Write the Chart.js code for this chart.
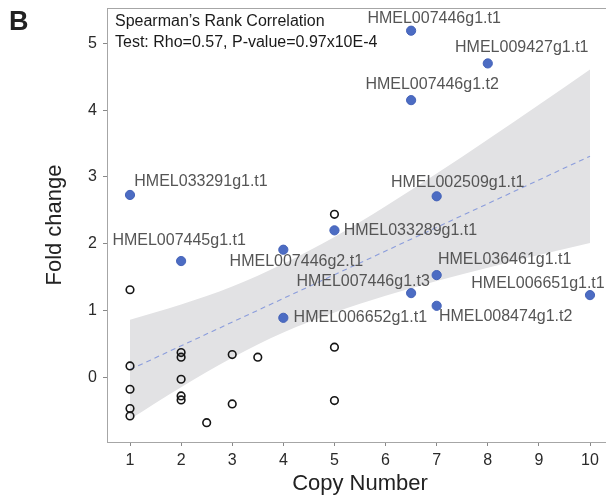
<!DOCTYPE html>
<html>
<head>
<meta charset="utf-8">
<script src="https://cdn.jsdelivr.net/npm/chart.js@4.4.1/dist/chart.umd.min.js"></script>
<style>
  html, body { margin: 0; padding: 0; background: #fff; overflow: hidden; }
  #wrap { position: relative; width: 620px; height: 497px; }
</style>
</head>
<body>
<div id="wrap"><canvas id="copyChart"></canvas></div>
<script>
/* ── DATA ─────────────────────────────────────────────────── */
const geneNames = [
  'HMEL007446g1.t1', 'HMEL009427g1.t1', 'HMEL007446g1.t2', 'HMEL033291g1.t1',
  'HMEL007445g1.t1', 'HMEL007446g2.t1', 'HMEL033289g1.t1', 'HMEL006652g1.t1',
  'HMEL002509g1.t1', 'HMEL036461g1.t1', 'HMEL007446g1.t3', 'HMEL008474g1.t2',
  'HMEL006651g1.t1'
];
const geneCopy = [6.5, 8, 6.5, 1, 2, 4, 5, 4, 7, 7, 6.5, 7, 10];
const geneFold = [5.19, 4.70, 4.15, 2.73, 1.74, 1.91, 2.20, 0.89, 2.71, 1.53, 1.26, 1.07, 1.23];

const otherCopy = [1, 1, 1, 1, 1, 2, 2, 2, 2, 2, 2.5, 3, 3, 3.5, 5, 5, 5];
const otherFold = [1.31, 0.17, -0.18, -0.47, -0.58, 0.37, 0.30, -0.03, -0.28, -0.34, -0.68, 0.34, -0.40, 0.30, 2.44, 0.45, -0.35];

const fitCopy = [1, 10];
const fitFold = [0.115, 3.31];

const bandCopy  = [1, 2, 3, 4, 5, 6, 7, 8, 9, 10];
const bandUpper = [0.86, 1.09, 1.36, 1.70, 2.10, 2.56, 3.05, 3.56, 4.08, 4.61];
const bandLower = [-0.63, -0.15, 0.29, 0.67, 0.97, 1.22, 1.44, 1.64, 1.83, 2.01];

const xTicks = [1, 2, 3, 4, 5, 6, 7, 8, 9, 10];
const yTicks = [0, 1, 2, 3, 4, 5];

const statLines = ['Spearman\u2019s Rank Correlation', 'Test: Rho=0.57, P-value=0.97x10E-4'];

/* ── LAYOUT (label offsets from each point, px) ────────────── */
const labelOffsets = [
  [23, -12], [34, -16], [21, -16], [71, -13],
  [-2, -20], [13, 12], [76, 0], [77, 0],
  [21, -14], [68, -15], [-48, -12], [69, 11],
  [-52, -12]
];

const FONT = "'Liberation Sans', Arial, sans-serif";
const pts = (xs, ys) => xs.map((x, i) => ({ x, y: ys[i] }));

/* ── PLUGINS ───────────────────────────────────────────────── */
const framePlugin = {
  id: 'frame',
  afterDatasetsDraw(chart) {
    const { ctx, chartArea: a } = chart;
    ctx.save();
    ctx.strokeStyle = '#a6a6a6';
    ctx.lineWidth = 1;
    ctx.strokeRect(a.left + 0.5, a.top + 0.5, a.right - a.left, a.bottom - a.top);
    ctx.restore();
  }
};

const textPlugin = {
  id: 'texts',
  afterDraw(chart) {
    const { ctx } = chart;
    const meta = chart.getDatasetMeta(0);
    ctx.save();
    ctx.textBaseline = 'middle';

    // gene labels
    ctx.font = '16px ' + FONT;
    ctx.fillStyle = '#555';
    ctx.textAlign = 'center';
    meta.data.forEach((p, i) => {
      const off = labelOffsets[i];
      ctx.fillText(geneNames[i], p.x + off[0], p.y + off[1]);
    });

    // stats text
    ctx.fillStyle = '#1a1a1a';
    ctx.textAlign = 'left';
    ctx.fillText(statLines[0], 115, 22);
    ctx.fillText(statLines[1], 115, 43);

    // panel letter
    ctx.font = 'bold 27px ' + FONT;
    ctx.fillStyle = '#222';
    ctx.fillText('B', 9, 23);
    ctx.restore();
  }
};

/* ── CHART ─────────────────────────────────────────────────── */
new Chart(document.getElementById('copyChart'), {
  type: 'scatter',
  data: {
    datasets: [
      {
        label: 'genes',
        data: pts(geneCopy, geneFold),
        pointRadius: 4.6,
        pointHoverRadius: 4.6,
        backgroundColor: '#4c6cc3',
        borderColor: '#4462b8',
        borderWidth: 1,
        showLine: false
      },
      {
        label: 'other',
        data: pts(otherCopy, otherFold),
        pointRadius: 3.8,
        pointHoverRadius: 3.8,
        backgroundColor: 'rgba(0,0,0,0)',
        borderColor: '#151515',
        borderWidth: 1.6,
        showLine: false
      },
      {
        label: 'fit',
        data: pts(fitCopy, fitFold),
        showLine: true,
        pointRadius: 0,
        borderColor: '#8b9ddc',
        borderWidth: 1.1,
        borderDash: [5, 4],
        fill: false
      },
      {
        label: 'upper',
        data: pts(bandCopy, bandUpper),
        showLine: true,
        pointRadius: 0,
        borderWidth: 0,
        borderColor: 'rgba(0,0,0,0)',
        backgroundColor: '#e2e2e4',
        cubicInterpolationMode: 'monotone',
        fill: '+1'
      },
      {
        label: 'lower',
        data: pts(bandCopy, bandLower),
        showLine: true,
        pointRadius: 0,
        borderWidth: 0,
        borderColor: 'rgba(0,0,0,0)',
        cubicInterpolationMode: 'monotone',
        fill: false
      }
    ]
  },
  options: {
    responsive: true,
    maintainAspectRatio: false,
    animation: false,
    events: [],
    layout: { padding: { left: 0, top: 8, right: 7, bottom: 0 } },
    plugins: {
      legend: { display: false },
      tooltip: { enabled: false }
    },
    scales: {
      x: {
        type: 'linear',
        min: 0.55, max: 10.45,
        afterFit(scale) {
          scale.height = 55;
          scale.paddingLeft = 0;
          scale.paddingRight = 0;
        },
        afterBuildTicks(scale) { scale.ticks = xTicks.map(v => ({ value: v })); },
        border: { display: true, color: '#a6a6a6' },
        grid: { drawOnChartArea: false, drawTicks: true, tickLength: 4, color: '#888' },
        ticks: { color: '#2a2a2a', font: { family: FONT, size: 16 }, padding: 5, maxRotation: 0 },
        title: {
          display: true, text: 'Copy Number', color: '#222',
          font: { family: FONT, size: 22 }, padding: { top: 0, bottom: 0 }
        }
      },
      y: {
        type: 'linear',
        min: -0.97, max: 5.53,
        afterFit(scale) {
          scale.width = 107;
          scale.paddingTop = 0;
          scale.paddingBottom = 0;
        },
        afterBuildTicks(scale) { scale.ticks = yTicks.map(v => ({ value: v })); },
        border: { display: true, color: '#a6a6a6' },
        grid: { drawOnChartArea: false, drawTicks: true, tickLength: 4, color: '#888' },
        ticks: { color: '#2a2a2a', font: { family: FONT, size: 16 }, padding: 6 },
        title: {
          display: true, text: 'Fold change', color: '#222',
          font: { family: FONT, size: 22 }, padding: { top: 42, bottom: 0 }
        }
      }
    }
  },
  plugins: [framePlugin, textPlugin]
});
</script>
</body>
</html>
